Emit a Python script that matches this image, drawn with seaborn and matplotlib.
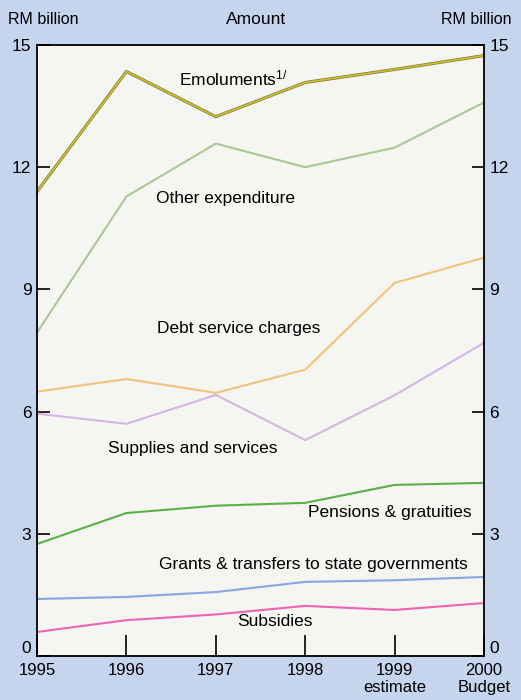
import matplotlib
matplotlib.use("Agg")
import matplotlib.pyplot as plt
import matplotlib.patheffects as pe
import seaborn as sns
import pandas as pd

years = [1995, 1996, 1997, 1998, 1999, 2000]
year_labels = ["1995", "1996", "1997", "1998", "1999\nestimate", "2000\nBudget"]
emoluments = [11.4, 14.35, 13.24, 14.08, 14.4, 14.74]
other_expenditure = [7.94, 11.28, 12.58, 12.0, 12.48, 13.59]
debt_service = [6.49, 6.8, 6.46, 7.03, 9.16, 9.78]
supplies_services = [5.95, 5.7, 6.41, 5.3, 6.4, 7.69]
pensions = [2.75, 3.51, 3.69, 3.76, 4.2, 4.25]
grants = [1.4, 1.45, 1.57, 1.82, 1.86, 1.94]
subsidies = [0.59, 0.88, 1.02, 1.23, 1.13, 1.3]

series = {
    "Emoluments": emoluments,
    "Other expenditure": other_expenditure,
    "Debt service charges": debt_service,
    "Supplies and services": supplies_services,
    "Pensions & gratuities": pensions,
    "Grants & transfers to state governments": grants,
    "Subsidies": subsidies,
}
palette = {
    "Emoluments": "#d2c02a",
    "Other expenditure": "#a9c896",
    "Debt service charges": "#f3c27e",
    "Supplies and services": "#d3b6e4",
    "Pensions & gratuities": "#5cb048",
    "Grants & transfers to state governments": "#86a9e2",
    "Subsidies": "#f062b4",
}

rows = []
for name, vals in series.items():
    for y, v in zip(years, vals):
        rows.append({"Year": y, "Value": v, "Series": name})
df = pd.DataFrame(rows)

sns.set_style("white")
plt.rcParams["font.family"] = ["Liberation Sans", "DejaVu Sans"]
plt.rcParams["mathtext.default"] = "regular"
plt.rcParams["text.color"] = "black"
plt.rcParams["xtick.color"] = "black"
plt.rcParams["ytick.color"] = "black"

W, H = 521, 700
fig = plt.figure(figsize=(W / 100, H / 100), dpi=100)
fig.patch.set_facecolor("#c6d5ee")
ax = fig.add_axes([37 / W, 1 - 656 / H, (484 - 37) / W, (656 - 45) / H])
ax.set_facecolor("#f5f5f2")

sns.lineplot(data=df, x="Year", y="Value", hue="Series", palette=palette,
             linewidth=1.5, legend=False, ax=ax, estimator=None)
# emoluments line with a thin dark edge
emo_line = ax.get_lines()[0]
emo_line.set_linewidth(1.2)
emo_line.set_path_effects([pe.Stroke(linewidth=2.2, foreground="#7d7640"), pe.Normal()])

ax.set_xlim(1995, 2000)
ax.set_ylim(0, 15)
ax.set_xticks(years)
ax.set_xticklabels(year_labels, fontsize=12, linespacing=1.2, va="top")
ax.set_yticks([0, 3, 6, 9, 12, 15])
ax.set_yticklabels(["0", "3", "6", "9", "12", "15"], fontsize=12.5)
ax.tick_params(axis="y", direction="in", length=9, width=1.2, left=True, right=True,
               labelleft=True, labelright=True, pad=4, colors="black")
ax.tick_params(axis="x", direction="in", length=15, width=1.2, bottom=True, pad=5,
               colors="black")
zero_tick = ax.yaxis.get_major_ticks()[0]
zero_tick.label1.set_va("bottom")
zero_tick.label2.set_va("bottom")
ax.set_xlabel("")
ax.set_ylabel("")
for s in ax.spines.values():
    s.set_visible(True)
    s.set_color("black")
    s.set_linewidth(1.3)

def ftext(x, y, s, size=12.5, **kw):
    fig.text(x / W, 1 - y / H, s, ha="center", va="center", fontsize=size,
             color="black", **kw)

ftext(256, 19, "Amount")
ftext(43, 19, "RM billion", size=11.5)
ftext(476, 19, "RM billion", size=11.5)
ftext(233, 78, "Emoluments$^{1/}$")
ftext(226, 198, "Other expenditure")
ftext(239, 329, "Debt service charges")
ftext(193, 449, "Supplies and services")
ftext(390, 513, "Pensions & gratuities")
ftext(313, 565, "Grants & transfers to state governments")
ftext(275, 622, "Subsidies")

fig.savefig("out.png", dpi=100, facecolor=fig.get_facecolor())
